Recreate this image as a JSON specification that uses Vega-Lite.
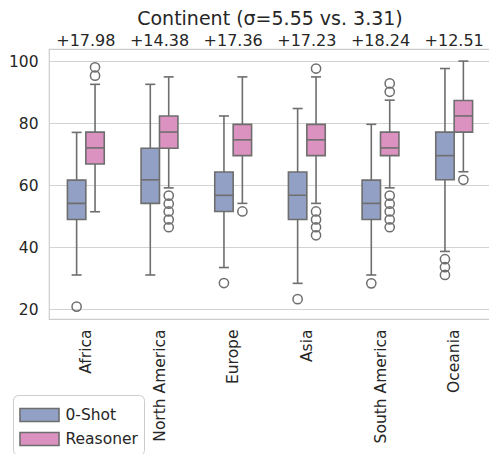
{
  "$schema": "https://vega.github.io/schema/vega-lite/v6.json",
  "width": 442,
  "height": 270,
  "autosize": {"type": "none"},
  "padding": {"left": 49, "top": 49, "right": -2, "bottom": 135},
  "title": {"text": "Continent (σ=5.55 vs. 3.31)", "fontSize": 19, "fontWeight": "normal", "color": "#262626", "anchor": "middle", "offset": 4},
  "config": {
    "font": "DejaVu Sans",
    "view": {"stroke": "#cccccc", "strokeWidth": 1.2},
    "axis": {"labelFont": "DejaVu Sans", "labelColor": "#262626", "labelFontSize": 15.5, "ticks": false, "domain": false, "title": null}
  },
  "datasets": {
    "boxes": [
      {"continent": "Africa", "model": "0-Shot", "lo": 31, "q1": 48.9, "med": 54.1, "q3": 61.6, "hi": 77},
      {"continent": "Africa", "model": "Reasoner", "lo": 51.4, "q1": 66.8, "med": 72.0, "q3": 77.1, "hi": 92.5},
      {"continent": "North America", "model": "0-Shot", "lo": 31, "q1": 54.1, "med": 61.7, "q3": 71.9, "hi": 92.5},
      {"continent": "North America", "model": "Reasoner", "lo": 59.1, "q1": 71.9, "med": 77.1, "q3": 82.3, "hi": 94.9},
      {"continent": "Europe", "model": "0-Shot", "lo": 33.4, "q1": 51.5, "med": 56.7, "q3": 64.2, "hi": 82.3},
      {"continent": "Europe", "model": "Reasoner", "lo": 54.1, "q1": 69.5, "med": 74.6, "q3": 79.6, "hi": 94.9},
      {"continent": "Asia", "model": "0-Shot", "lo": 28.3, "q1": 48.9, "med": 56.7, "q3": 64.2, "hi": 84.7},
      {"continent": "Asia", "model": "Reasoner", "lo": 54.1, "q1": 69.5, "med": 74.6, "q3": 79.6, "hi": 94.9},
      {"continent": "South America", "model": "0-Shot", "lo": 31, "q1": 48.9, "med": 54.1, "q3": 61.6, "hi": 79.6},
      {"continent": "South America", "model": "Reasoner", "lo": 59.1, "q1": 69.5, "med": 72.0, "q3": 77.1, "hi": 87.4},
      {"continent": "Oceania", "model": "0-Shot", "lo": 38.6, "q1": 61.7, "med": 69.5, "q3": 77.1, "hi": 97.6},
      {"continent": "Oceania", "model": "Reasoner", "lo": 64.3, "q1": 77.1, "med": 82.3, "q3": 87.3, "hi": 100}
    ],
    "outliers": [
      {"continent": "Africa", "model": "0-Shot", "value": 20.8},
      {"continent": "Africa", "model": "Reasoner", "value": 95.3},
      {"continent": "Africa", "model": "Reasoner", "value": 98.0},
      {"continent": "North America", "model": "Reasoner", "value": 56.6},
      {"continent": "North America", "model": "Reasoner", "value": 54.0},
      {"continent": "North America", "model": "Reasoner", "value": 51.5},
      {"continent": "North America", "model": "Reasoner", "value": 48.9},
      {"continent": "North America", "model": "Reasoner", "value": 46.4},
      {"continent": "Europe", "model": "0-Shot", "value": 28.4},
      {"continent": "Europe", "model": "Reasoner", "value": 51.5},
      {"continent": "Asia", "model": "0-Shot", "value": 23.2},
      {"continent": "Asia", "model": "Reasoner", "value": 97.6},
      {"continent": "Asia", "model": "Reasoner", "value": 51.5},
      {"continent": "Asia", "model": "Reasoner", "value": 48.9},
      {"continent": "Asia", "model": "Reasoner", "value": 46.4},
      {"continent": "Asia", "model": "Reasoner", "value": 43.8},
      {"continent": "South America", "model": "0-Shot", "value": 28.3},
      {"continent": "South America", "model": "Reasoner", "value": 92.8},
      {"continent": "South America", "model": "Reasoner", "value": 90.1},
      {"continent": "South America", "model": "Reasoner", "value": 56.6},
      {"continent": "South America", "model": "Reasoner", "value": 54.0},
      {"continent": "South America", "model": "Reasoner", "value": 51.5},
      {"continent": "South America", "model": "Reasoner", "value": 48.9},
      {"continent": "South America", "model": "Reasoner", "value": 46.4},
      {"continent": "Oceania", "model": "0-Shot", "value": 36.1},
      {"continent": "Oceania", "model": "0-Shot", "value": 33.5},
      {"continent": "Oceania", "model": "0-Shot", "value": 31.0},
      {"continent": "Oceania", "model": "Reasoner", "value": 61.7}
    ],
    "deltas": [
      {"continent": "Africa", "delta": "+17.98"},
      {"continent": "North America", "delta": "+14.38"},
      {"continent": "Europe", "delta": "+17.36"},
      {"continent": "Asia", "delta": "+17.23"},
      {"continent": "South America", "delta": "+18.24"},
      {"continent": "Oceania", "delta": "+12.51"}
    ]
  },
  "encoding": {
    "x": {
      "field": "continent", "type": "nominal",
      "sort": ["Africa", "North America", "Europe", "Asia", "South America", "Oceania"],
      "scale": {"paddingInner": 0.5, "paddingOuter": 0.25},
      "axis": {"labelAngle": -90, "labelPadding": 10, "grid": false}
    }
  },
  "layer": [
    {
      "data": {"name": "boxes"},
      "mark": {"type": "rule", "color": "#6e6e6e", "strokeWidth": 1.6},
      "encoding": {
        "xOffset": {"field": "model", "type": "nominal", "scale": {"domain": ["0-Shot", "Reasoner"], "paddingInner": 0, "paddingOuter": 0}},
        "y": {"field": "lo", "type": "quantitative", "scale": {"domain": [16.8, 103.9], "nice": false, "zero": false},
              "axis": {"values": [20, 40, 60, 80, 100], "labelPadding": 11, "gridColor": "#d3d3d3", "gridWidth": 1}},
        "y2": {"field": "hi"}
      }
    },
    {
      "data": {"name": "boxes"},
      "mark": {"type": "bar", "stroke": "#6e6e6e", "strokeWidth": 1.6, "opacity": 1},
      "encoding": {
        "xOffset": {"field": "model", "type": "nominal"},
        "y": {"field": "q1", "type": "quantitative"},
        "y2": {"field": "q3"},
        "fill": {
          "field": "model", "type": "nominal",
          "scale": {"domain": ["0-Shot", "Reasoner"], "range": ["#92a0c5", "#db92c0"]},
          "legend": {
            "orient": "none", "legendX": -36, "legendY": 346, "title": null,
            "symbolType": "M-1.5,-0.5H1.5V0.5H-1.5Z", "symbolSize": 676,
            "symbolStrokeColor": "#6e6e6e", "symbolStrokeWidth": 1.6, "symbolOpacity": 1,
            "symbolOffset": 6.5, "labelOffset": 12,
            "labelFontSize": 15.5, "labelColor": "#262626", "labelFont": "DejaVu Sans",
            "padding": 6, "rowPadding": 0, "strokeColor": "#cccccc", "fillColor": "white", "cornerRadius": 5
          }
        }
      }
    },
    {
      "data": {"name": "boxes"},
      "mark": {"type": "tick", "color": "#6e6e6e", "thickness": 1.6, "size": 18.4, "opacity": 1},
      "encoding": {
        "xOffset": {"field": "model", "type": "nominal"},
        "y": {"field": "med", "type": "quantitative"}
      }
    },
    {
      "data": {"name": "boxes"},
      "mark": {"type": "tick", "color": "#6e6e6e", "thickness": 1.6, "size": 10, "opacity": 1},
      "encoding": {
        "xOffset": {"field": "model", "type": "nominal"},
        "y": {"field": "lo", "type": "quantitative"}
      }
    },
    {
      "data": {"name": "boxes"},
      "mark": {"type": "tick", "color": "#6e6e6e", "thickness": 1.6, "size": 10, "opacity": 1},
      "encoding": {
        "xOffset": {"field": "model", "type": "nominal"},
        "y": {"field": "hi", "type": "quantitative"}
      }
    },
    {
      "data": {"name": "outliers"},
      "mark": {"type": "point", "shape": "circle", "filled": false, "stroke": "#6e6e6e", "strokeWidth": 1.5, "size": 85, "opacity": 1},
      "encoding": {
        "xOffset": {"field": "model", "type": "nominal"},
        "y": {"field": "value", "type": "quantitative"}
      }
    },
    {
      "data": {"name": "deltas"},
      "mark": {"type": "text", "fontSize": 16, "color": "#262626", "baseline": "alphabetic", "align": "center"},
      "encoding": {
        "y": {"datum": 104.84, "type": "quantitative"},
        "text": {"field": "delta"}
      }
    }
  ]
}
